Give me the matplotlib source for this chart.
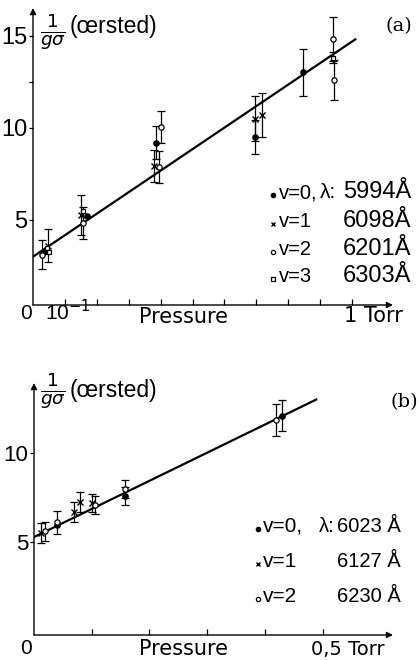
import matplotlib
matplotlib.use("Agg")
import matplotlib.pyplot as plt

W, H = 419, 660

plt.rcParams['font.family'] = ['Liberation Sans', 'DejaVu Sans']
plt.rcParams['mathtext.fontset'] = 'dejavusans'

# ---- panel (a): pressure in Torr, 1/(g sigma) in oersted, error ----
a_v0_x = [0.034, 0.169, 0.386, 0.696, 0.846]
a_v0_y = [3.26, 5.22, 9.18, 9.5, 13.0]
a_v0_e = [0.0, 0.0, 0.9, 0.9, 1.25]

a_v1_x = [0.047, 0.150, 0.379, 0.696, 0.718]
a_v1_y = [3.6, 5.27, 7.93, 10.5, 10.7]
a_v1_e = [0.9, 1.1, 0.87, 1.2, 1.2]

a_v2_x = [0.028, 0.157, 0.395, 0.400, 0.940, 0.943]
a_v2_y = [3.1, 4.84, 7.88, 10.05, 14.8, 12.6]
a_v2_e = [0.79, 0.87, 0.87, 0.87, 1.2, 1.1]

a_v3_x = [0.044, 0.050, 0.157, 0.940]
a_v3_y = [3.5, 3.26, 5.49, 13.8]
a_v3_e = [0.0, 0.0, 0.0, 0.3]

fit_a_x = [0.0, 1.01]
fit_a_y = [3.0, 14.8]

# ---- panel (b) ----
b_v0_x = [0.040, 0.158, 0.430]
b_v0_y = [5.95, 7.6, 12.08]
b_v0_e = [0.0, 0.5, 0.87]

b_v1_x = [0.012, 0.069, 0.080, 0.100]
b_v1_y = [5.5, 6.7, 7.25, 7.2]
b_v1_e = [0.55, 0.55, 0.55, 0.5]

b_v2_x = [0.019, 0.040, 0.105, 0.158, 0.419]
b_v2_y = [5.6, 6.1, 7.1, 8.0, 11.85]
b_v2_e = [0.55, 0.65, 0.5, 0.5, 0.9]

fit_b_x = [0.0, 0.489]
fit_b_y = [5.28, 13.0]

legend_a_v = ["v=0,", "v=1", "v=2", "v=3"]
legend_a_lam = ["5994Å", "6098Å", "6201Å", "6303Å"]
legend_b_v = ["v=0,", "v=1", "v=2"]
legend_b_lam = ["6023 Å", "6127 Å", "6230 Å"]

styles = {
    'v0': dict(marker='o', ms=3.8, mfc='black', mec='black'),
    'v1': dict(marker='x', ms=4.2, mfc='black', mec='black', mew=1.0),
    'v2': dict(marker='o', ms=3.8, mfc='white', mec='black', mew=0.9),
    'v3': dict(marker='s', ms=3.0, mfc='white', mec='black', mew=0.9),
}


def fx(px):
    return px / W


def fy(py):
    return 1 - py / H


def draw_series(ax, x, y, e, key):
    for xi, yi, ei in zip(x, y, e):
        ax.errorbar([xi], [yi], yerr=[ei] if ei > 0 else None, fmt='none',
                    ecolor='black', elinewidth=0.9, capsize=2.8, capthick=0.9, zorder=3)
    ax.plot(x, y, linestyle='none', zorder=4, **styles[key])


def setup_axes(ax, tick_fs):
    for s in ax.spines.values():
        s.set_visible(False)
    ax.annotate('', xy=(0, 1), xytext=(0, 0), xycoords='axes fraction',
                arrowprops=dict(arrowstyle='-|>', lw=1.0, color='black', mutation_scale=9,
                                shrinkA=0, shrinkB=0))
    ax.annotate('', xy=(1, 0), xytext=(0, 0), xycoords='axes fraction',
                arrowprops=dict(arrowstyle='-|>', lw=1.0, color='black', mutation_scale=9,
                                shrinkA=0, shrinkB=0))
    ax.tick_params(axis='x', direction='in', length=4, width=0.9, labelbottom=False)
    ax.tick_params(axis='y', direction='out', length=3, width=0.9, labelsize=tick_fs, pad=1)


fig = plt.figure(figsize=(W / 100, H / 100), dpi=100)

# panel (a)
ax1 = fig.add_axes([fx(33), fy(305), fx(393) - fx(33), fy(8) - fy(305)])
ax1.set_xlim(0, 1.128)
ax1.set_ylim(0.38, 16.5)
setup_axes(ax1, 17)
ax1.set_xticks([0.1, 0.2, 0.3, 0.4, 0.5, 0.6, 0.7, 0.8, 0.9, 1.0])
ax1.set_yticks([5, 10, 15])
ax1.set_yticks([12.5], minor=True)
ax1.tick_params(axis='y', which='minor', direction='out', length=3, width=0.9)
ax1.plot(fit_a_x, fit_a_y, color='black', lw=1.6, zorder=2)
draw_series(ax1, a_v0_x, a_v0_y, a_v0_e, 'v0')
draw_series(ax1, a_v1_x, a_v1_y, a_v1_e, 'v1')
draw_series(ax1, a_v2_x, a_v2_y, a_v2_e, 'v2')
draw_series(ax1, a_v3_x, a_v3_y, a_v3_e, 'v3')

# panel (b)
ax2 = fig.add_axes([fx(34), fy(635), fx(393) - fx(34), fy(383) - fy(635)])
ax2.set_xlim(0, 0.622)
ax2.set_ylim(-0.22, 13.93)
setup_axes(ax2, 16)
ax2.set_xticks([0.1, 0.2, 0.3, 0.4, 0.5])
ax2.set_yticks([5, 10])
ax2.plot(fit_b_x, fit_b_y, color='black', lw=1.6, zorder=2)
draw_series(ax2, b_v0_x, b_v0_y, b_v0_e, 'v0')
draw_series(ax2, b_v1_x, b_v1_y, b_v1_e, 'v1')
draw_series(ax2, b_v2_x, b_v2_y, b_v2_e, 'v2')

# axis texts (baseline positions)
wide = ['DejaVu Sans']
fig.text(fx(26), fy(319), "0", fontsize=15, ha='center', va='baseline')
fig.text(fx(68), fy(320), r"10$^{-1}$", fontsize=15, ha='center', va='baseline')
fig.text(fx(183), fy(323), "Pressure", fontsize=15, family=wide, ha='center', va='baseline')
fig.text(fx(344), fy(322), "1 Torr", fontsize=15, family=wide, ha='left', va='baseline')
fig.text(fx(26), fy(654), "0", fontsize=15, ha='center', va='baseline')
fig.text(fx(183), fy(655), "Pressure", fontsize=15, family=wide, ha='center', va='baseline')
fig.text(fx(311), fy(655), "0,5 Torr", fontsize=14, family=wide, ha='left', va='baseline')

# y labels
fig.text(fx(53), fy(32), r"$\frac{1}{g\sigma}$", fontsize=19, ha='center', va='center')
fig.text(fx(70), fy(33), "(œrsted)", fontsize=16.5, ha='left', va='baseline')
fig.text(fx(53), fy(391), r"$\frac{1}{g\sigma}$", fontsize=19, ha='center', va='center')
fig.text(fx(70), fy(397), "(œrsted)", fontsize=16.5, ha='left', va='baseline')

# panel tags
fig.text(fx(399), fy(26), "(a)", fontsize=14, family='DejaVu Serif', ha='center', va='center')
fig.text(fx(404), fy(402), "(b)", fontsize=14, family='DejaVu Serif', ha='center', va='center')

# legends
base_a = [198, 227, 255, 282]
keys_a = ['v0', 'v1', 'v2', 'v3']
for vtxt, lam, py, key in zip(legend_a_v, legend_a_lam, base_a, keys_a):
    st = dict(styles[key])
    st['ms'] = st['ms'] * 0.8
    fig.add_artist(plt.Line2D([fx(273)], [fy(py - 3)], linestyle='none', **st))
    fig.text(fx(279), fy(py), vtxt, fontsize=14.5, ha='left', va='baseline')
    fig.text(fx(411), fy(py), lam, fontsize=17, ha='right', va='baseline')
fig.text(fx(320), fy(base_a[0]), "λ:", fontsize=15, ha='left', va='baseline')

base_b = [532, 567, 602]
keys_b = ['v0', 'v1', 'v2']
for vtxt, lam, py, key in zip(legend_b_v, legend_b_lam, base_b, keys_b):
    st = dict(styles[key])
    st['ms'] = st['ms'] * 0.8
    fig.add_artist(plt.Line2D([fx(258)], [fy(py - 3)], linestyle='none', **st))
    fig.text(fx(263), fy(py), vtxt, fontsize=15, ha='left', va='baseline')
    fig.text(fx(401), fy(py), lam, fontsize=14.5, ha='right', va='baseline')
fig.text(fx(319), fy(base_b[0]), "λ:", fontsize=14.5, ha='left', va='baseline')

fig.savefig("out.png", dpi=100)
